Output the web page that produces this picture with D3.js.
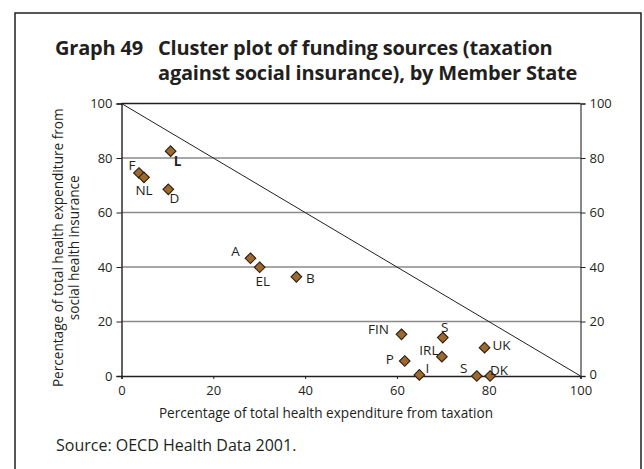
<!DOCTYPE html>
<html>
<head>
<meta charset="utf-8">
<script src="https://cdn.jsdelivr.net/npm/d3@7"></script>
<style>
  html, body { margin: 0; padding: 0; background: #fff; }
  svg { display: block; font-family: "Open Sans", "Noto Sans", sans-serif; }
</style>
</head>
<body>
<svg id="chart" width="644" height="469"></svg>
<script>
// ---- data ----
const countries = ["F", "NL", "L", "D", "A", "EL", "B", "FIN", "S", "IRL", "P", "UK", "I", "S", "DK"];
const taxation  = [3.8, 4.9, 10.7, 10.2, 28.1, 30.1, 38.1, 61.0, 70.0, 69.8, 61.7, 79.1, 64.9, 77.4, 80.3];
const socialIns = [74.5, 72.9, 82.5, 68.5, 43.2, 39.9, 36.4, 15.3, 14.1, 7.1, 5.5, 10.4, 0.4, 0.0, 0.0];
const labelDx   = [-7, 0, 7, 6, -15, 3, 14, -23, 2, -13, -15, 17, 8, -13, 9];
const labelDy   = [-8, 13, 10, 9, -7, 14, 1, -5, -11, -7, -2, -3, -7, -8, -6];
const boldLabel = [false, false, true, false, false, false, false, false, false, false, false, false, false, false, false];
const xTicks = [0, 20, 40, 60, 80, 100];
const yTicks = [0, 20, 40, 60, 80, 100];
const diagonal = [[0, 100], [100, 0]];
const titleLead = "Graph 49";
const titleLines = ["Cluster plot of funding sources (taxation", "against social insurance), by Member State"];
const xTitle = "Percentage of total health expenditure from taxation";
const yTitleLines = ["Percentage of total health expenditure from", "social health insurance"];
const sourceText = "Source: OECD Health Data 2001.";

// ---- layout ----
const svg = d3.select("#chart");
const L = 121.5, R = 580.5, T = 103.5, B = 376;
const x = d3.scaleLinear().domain([0, 100]).range([L, R]);
const y = d3.scaleLinear().domain([0, 100]).range([B, T]);
const textCol = "#231f20";

// frame
svg.append("path")
  .attr("d", `M15,480 V13 H641 V480`)
  .attr("fill", "none").attr("stroke", "#231f20").attr("stroke-width", 1.5);

// title
const tt = svg.append("g").attr("font-weight", "bold").attr("font-size", 20).attr("fill", textCol)
  .attr("letter-spacing", -0.2);
tt.append("text").attr("x", 55).attr("y", 55).text(titleLead);
titleLines.forEach((s, i) => tt.append("text").attr("x", 158).attr("y", 55 + i * 24.5).text(s));

// gridlines
svg.append("g").selectAll("line").data(yTicks.filter(d => d > 0 && d < 100)).join("line")
  .attr("x1", L).attr("x2", R).attr("y1", d => y(d)).attr("y2", d => y(d))
  .attr("stroke", "#8a8a8a").attr("stroke-width", 1.4);

// top line
svg.append("line").attr("x1", L).attr("x2", R).attr("y1", y(100)).attr("y2", y(100))
  .attr("stroke", "#231f20").attr("stroke-width", 1.4);

// axes
const axL = svg.append("g").attr("transform", `translate(${L},0)`)
  .call(d3.axisLeft(y).tickValues(yTicks).tickSize(5).tickPadding(4));
const axR = svg.append("g").attr("transform", `translate(${R},0)`)
  .call(d3.axisRight(y).tickValues(yTicks).tickSize(5).tickPadding(4));
const axB = svg.append("g").attr("transform", `translate(0,${B})`)
  .call(d3.axisBottom(x).tickValues(xTicks).tickSize(3).tickPadding(7));
[axL, axR, axB].forEach(a => {
  a.select(".domain").attr("stroke", "#231f20").attr("stroke-width", 1.4);
  a.selectAll(".tick line").attr("stroke", "#231f20").attr("stroke-width", 1);
  a.selectAll(".tick text").attr("font-family", "Open Sans, sans-serif").attr("font-size", 13).attr("fill", textCol);
});
axR.select(".domain").attr("stroke", "#555");
axR.selectAll(".tick text").filter(d => d === 0).attr("dy", "0.2em");

// diagonal
svg.append("path").attr("d", d3.line().x(d => x(d[0])).y(d => y(d[1]))(diagonal))
  .attr("fill", "none").attr("stroke", "#231f20").attr("stroke-width", 1);

// points
const pts = countries.map((c, i) => ({c, xv: taxation[i], yv: socialIns[i], dx: labelDx[i], dy: labelDy[i], b: boldLabel[i]}));
const sym = d3.symbol().type(d3.symbolDiamond2).size(72);
svg.append("g").selectAll("path").data(pts).join("path")
  .attr("transform", d => `translate(${x(d.xv)},${y(d.yv)})`)
  .attr("d", sym)
  .attr("fill", "#9c6a2e").attr("stroke", "#2b1d10").attr("stroke-width", 1.1);

svg.append("g").selectAll("text").data(pts).join("text")
  .attr("x", d => x(d.xv) + d.dx).attr("y", d => y(d.yv) + d.dy)
  .attr("text-anchor", "middle").attr("dominant-baseline", "central")
  .attr("font-size", 13.5).attr("font-weight", d => d.b ? "bold" : "normal")
  .attr("fill", textCol).text(d => d.c);

// axis titles
svg.append("text").attr("x", 326).attr("y", 412)
  .attr("text-anchor", "middle").attr("dominant-baseline", "central")
  .attr("font-size", 13.6).attr("fill", textCol).text(xTitle);
const yt = svg.append("g").attr("transform", `translate(0,${(T + B) / 2 + 8}) rotate(-90)`);
yTitleLines.forEach((s, i) => yt.append("text").attr("x", 0).attr("y", 57 + i * 16)
  .attr("text-anchor", "middle").attr("dominant-baseline", "central")
  .attr("font-size", 13.6).attr("fill", textCol).text(s));

// source
svg.append("text").attr("x", 56).attr("y", 451).attr("font-size", 16).attr("fill", textCol).text(sourceText);
</script>
</body>
</html>
